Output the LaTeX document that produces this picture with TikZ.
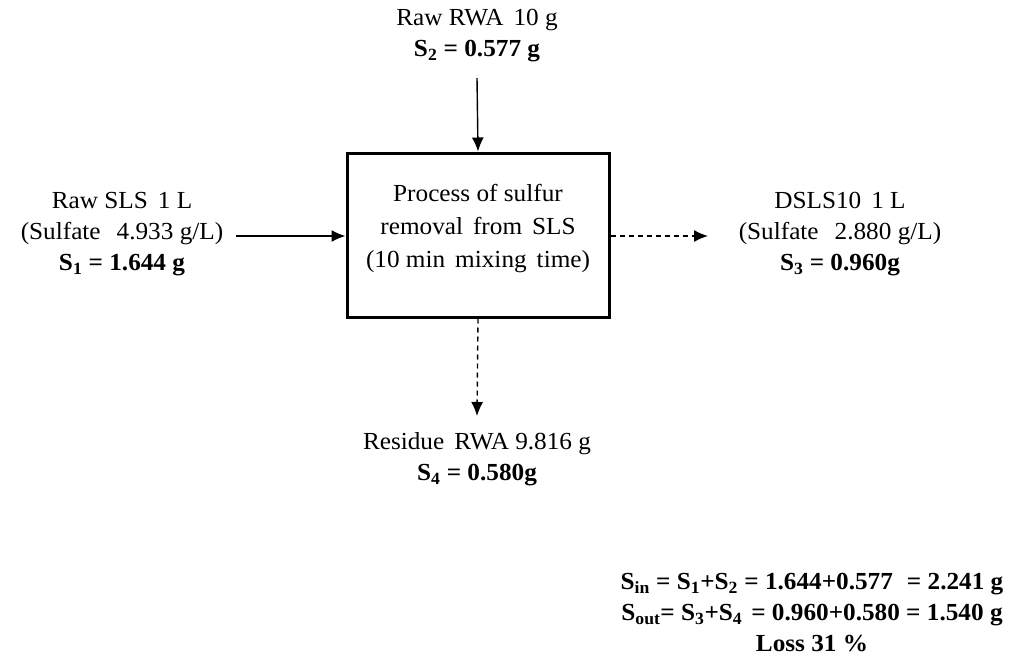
\documentclass[tikz,border=0pt]{standalone}
\usepackage{fontspec}
\setmainfont[FakeStretch=1.03]{Liberation Serif}
\usetikzlibrary{arrows.meta}
\begin{document}
\begin{tikzpicture}[x=1pt,y=-1pt,
  txt/.style={align=center,inner sep=0pt,font=\fontsize{24.5}{31}\selectfont},
  arr/.style={line width=1.4pt,-{Latex[length=14pt,width=12pt]}},
  darr/.style={arr,dash pattern=on 5pt off 4pt}]
\useasboundingbox (0,0) rectangle (1019,661);
\node[draw,line width=3pt,minimum width=262pt,minimum height=164pt,inner sep=0pt] (box) at (478,235) {};
\node[txt,font=\fontsize{24.5}{33}\selectfont] (proc) at (478,229) {Process of sulfur\\removal\hspace{10pt}from\hspace{10pt}SLS\\(10 min\hspace{10pt}mixing\hspace{10pt}time)};
\node[txt] (top) at (477,36) {Raw RWA\hspace{10pt}10 g\\\textbf{S\textsubscript{2} = 0.577 g}};
\node[txt] (left) at (122,234) {Raw SLS\hspace{10pt}1 L\\(Sulfate\hspace{16pt}4.933 g/L)\\\textbf{S\textsubscript{1} = 1.644 g}};
\node[txt] (right) at (840,234) {DSLS10\hspace{10pt}1 L\\(Sulfate\hspace{16pt}2.880 g/L)\\\textbf{S\textsubscript{3} = 0.960g}};
\node[txt] (bot) at (477,459) {Residue\hspace{10pt}RWA 9.816 g\\\textbf{S\textsubscript{4} = 0.580g}};
\node[txt,font=\fontsize{24.5}{31}\bfseries] (bal) at (812,613) {S\textsubscript{in} = S\textsubscript{1}+S\textsubscript{2} = 1.644+0.577\hspace{14pt}= 2.241 g\\S\textsubscript{out}= S\textsubscript{3}+S\textsubscript{4}\hspace{9pt}= 0.960+0.580 = 1.540 g\\Loss 31 \%};
\coordinate (topS) at (477,78);
\coordinate (leftS) at (236,236);
\coordinate (rightE) at (708,236);
\coordinate (botE) at (477,416);
\draw[arr] (topS) -- (box.north);
\draw[arr] (leftS) -- (leftS -| box.west);
\draw[darr] (rightE -| box.east) -- (rightE);
\draw[darr] (box.south) -- (botE);
\end{tikzpicture}
\end{document}
